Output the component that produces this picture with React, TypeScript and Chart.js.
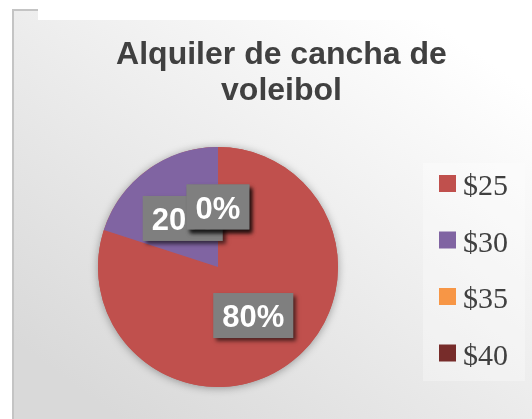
import React, { useEffect, useRef } from 'react';
import { Chart, registerables } from 'chart.js';

Chart.register(...registerables);

const TITLE_LINES = ['Alquiler de cancha de', 'voleibol'];
const CATEGORIES = ['$25', '$30', '$35', '$40'];
const VALUES = [80, 20, 0, 0];
const COLORS = ['#C0504D', '#8064A2', '#F79646', '#772C2A'];

const W = 532;
const H = 419;

export default function App() {
  const ref = useRef<HTMLCanvasElement | null>(null);

  useEffect(() => {
    document.body.style.margin = '0';
    const canvas = ref.current;
    if (!canvas) return;

    const backgroundPlugin = {
      id: 'bg',
      beforeDraw(chart: any) {
        const ctx = chart.ctx;
        ctx.save();
        ctx.fillStyle = '#ffffff';
        ctx.fillRect(0, 0, W, H);
        const g = ctx.createLinearGradient(420, 10, 120, H);
        g.addColorStop(0, '#ffffff');
        g.addColorStop(1, '#d9d9d9');
        ctx.fillStyle = g;
        ctx.fillRect(12, 10, W - 12, H - 10);
        ctx.fillStyle = '#ffffff';
        ctx.fillRect(38, 0, W - 38, 20);
        // frame lines
        ctx.fillStyle = '#c4c4c4';
        ctx.fillRect(12, 9, 2, H - 9);
        ctx.fillRect(12, 9, 26, 2);
        // legend box
        ctx.fillStyle = 'rgba(255,255,255,0.3)';
        ctx.fillRect(423, 163, 102, 218);
        // title
        ctx.fillStyle = '#404040';
        ctx.font = 'bold 32px "Liberation Sans", Arial, sans-serif';
        ctx.textAlign = 'center';
        ctx.textBaseline = 'alphabetic';
        ctx.fillText(TITLE_LINES[0], 281.5, 64);
        ctx.fillText(TITLE_LINES[1], 281.5, 99.5);
        // legend
        ctx.textAlign = 'left';
        ctx.font = '30px "Liberation Serif", "Times New Roman", serif';
        CATEGORIES.forEach((c, i) => {
          const base = 195 + i * 56.5;
          ctx.fillStyle = COLORS[i];
          ctx.fillRect(439, base - 20, 17, 17);
          ctx.fillStyle = '#404040';
          ctx.fillText(c, 463, base);
        });
        ctx.restore();
      },
      beforeDatasetsDraw(chart: any) {
        const meta = chart.getDatasetMeta(0);
        const arc = meta.data[0];
        if (!arc) return;
        const ctx = chart.ctx;
        ctx.save();
        ctx.shadowColor = 'rgba(0,0,0,0.35)';
        ctx.shadowBlur = 8;
        ctx.shadowOffsetX = 0;
        ctx.shadowOffsetY = 1;
        ctx.fillStyle = COLORS[0];
        ctx.beginPath();
        ctx.arc(arc.x, arc.y, arc.outerRadius, 0, Math.PI * 2);
        ctx.fill();
        ctx.restore();
      },
      afterDatasetsDraw(chart: any) {
        const meta = chart.getDatasetMeta(0);
        const ctx = chart.ctx;
        const total = VALUES.reduce((a, b) => a + b, 0);
        const order = [0, 1, 2, 3];
        order.forEach((i) => {
          const arc = meta.data[i];
          const pt = arc.getCenterPoint();
          const txt = Math.round((VALUES[i] / total) * 100) + '%';
          ctx.save();
          ctx.font = 'bold 31px "Liberation Sans", Arial, sans-serif';
          const tw = ctx.measureText(txt).width;
          const bw = tw + 18;
          const bh = 45;
          ctx.shadowColor = 'rgba(0,0,0,0.6)';
          ctx.shadowBlur = 4;
          ctx.shadowOffsetX = 3;
          ctx.shadowOffsetY = 3;
          ctx.fillStyle = '#7F7F7F';
          ctx.fillRect(pt.x - bw / 2, pt.y - bh / 2, bw, bh);
          ctx.shadowColor = 'rgba(0,0,0,0)';
          ctx.shadowBlur = 0;
          ctx.shadowOffsetX = 0;
          ctx.shadowOffsetY = 0;
          ctx.fillStyle = '#ffffff';
          ctx.textAlign = 'center';
          ctx.textBaseline = 'alphabetic';
          ctx.fillText(txt, pt.x, pt.y + 11.5);
          ctx.restore();
        });
      },
    };

    const chart = new Chart(canvas, {
      type: 'pie',
      data: {
        labels: CATEGORIES,
        datasets: [
          {
            data: VALUES,
            backgroundColor: COLORS,
            borderWidth: 0,
          },
        ],
      },
      options: {
        responsive: false,
        animation: false,
        devicePixelRatio: 1,
        layout: { padding: { left: 98, right: 194, top: 147, bottom: 32 } },
        plugins: {
          legend: { display: false },
          title: { display: false },
          tooltip: { enabled: false },
        },
      },
      plugins: [backgroundPlugin],
    });

    return () => chart.destroy();
  }, []);

  return (
    <div style={{ width: W, height: H }}>
      <canvas ref={ref} width={W} height={H} style={{ display: 'block' }} />
    </div>
  );
}
